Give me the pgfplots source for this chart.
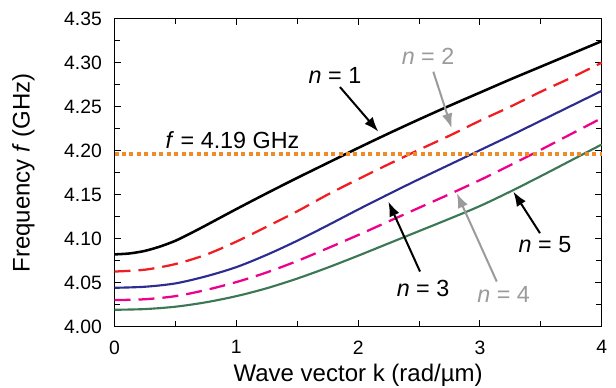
\documentclass[border=0pt]{standalone}
\usepackage{pgfplots}
\pgfplotsset{compat=1.18}
\usepackage{fontspec}
\setmainfont{Liberation Sans}
\usetikzlibrary{arrows.meta}
\definecolor{cred}{RGB}{240,30,35}
\definecolor{cblue}{RGB}{45,45,145}
\definecolor{cmag}{RGB}{236,0,140}
\definecolor{cgreen}{RGB}{60,120,85}
\definecolor{corange}{RGB}{240,140,40}
\definecolor{cgray}{RGB}{155,155,155}
\begin{document}
\begin{tikzpicture}
\begin{axis}[
  scale only axis, width=365.4pt, height=230.8pt,
  xmin=0, xmax=4, ymin=4.00, ymax=4.35,
  xtick={0,1,2,3,4}, ytick={4.00,4.05,4.10,4.15,4.20,4.25,4.30,4.35},
  minor x tick num=1, minor y tick num=1,
  tick pos=both, tick align=inside,
  major tick length=5pt, minor tick length=4pt,
  axis line style={line width=1pt}, every tick/.style={line width=0.8pt, black},
  /pgf/number format/assume math mode=true,
  yticklabel style={/pgf/number format/fixed, /pgf/number format/fixed zerofill, /pgf/number format/precision=2, xshift=-6pt},
  xticklabel style={yshift=-7pt},
  ticklabel style={font=\fontsize{14.5}{16}\selectfont},
  clip=false,
]
\addplot[black, line width=1.9pt, smooth] coordinates {(0,4.0820)(0.125,4.0831)(0.25,4.0860)(0.375,4.0910)(0.5,4.0975)(0.625,4.1060)(0.75,4.1150)(1.0,4.1335)(1.25,4.1515)(1.5,4.1690)(1.75,4.1860)(2.0,4.2030)(2.25,4.2195)(2.5,4.2355)(2.75,4.2510)(3.0,4.2660)(3.25,4.2810)(3.5,4.2955)(3.75,4.3100)(4.0,4.3245)};
\addplot[cred, line width=1.7pt, smooth, dash pattern=on 12pt off 6pt] coordinates {(0,4.0625)(0.25,4.0646)(0.5,4.0710)(0.75,4.0816)(1.0,4.0965)(1.25,4.1135)(1.5,4.1310)(1.75,4.1500)(2.0,4.1675)(2.25,4.1845)(2.5,4.2010)(2.75,4.2170)(3.0,4.2340)(3.25,4.2500)(3.5,4.2670)(3.75,4.2830)(4.0,4.3000)};
\addplot[cblue, line width=1.6pt, smooth] coordinates {(0,4.0440)(0.25,4.0452)(0.5,4.0490)(0.75,4.0570)(1.0,4.0675)(1.25,4.0815)(1.5,4.0975)(1.75,4.1150)(2.0,4.1330)(2.25,4.1505)(2.5,4.1675)(2.75,4.1840)(3.0,4.2005)(3.25,4.2170)(3.5,4.2340)(3.75,4.2510)(4.0,4.2680)};
\addplot[cmag, line width=1.7pt, smooth, dash pattern=on 12pt off 6pt] coordinates {(0,4.0300)(0.25,4.0310)(0.5,4.0345)(0.75,4.0415)(1.0,4.0505)(1.25,4.0615)(1.5,4.0745)(1.75,4.0890)(2.0,4.1040)(2.25,4.1195)(2.5,4.1350)(2.75,4.1505)(3.0,4.1665)(3.25,4.1835)(3.5,4.2010)(3.75,4.2190)(4.0,4.2370)};
\addplot[cgreen, line width=1.6pt, smooth] coordinates {(0,4.0190)(0.25,4.0198)(0.5,4.0225)(0.75,4.0275)(1.0,4.0345)(1.25,4.0435)(1.5,4.0545)(1.75,4.0670)(2.0,4.0805)(2.25,4.0945)(2.5,4.1085)(2.75,4.1225)(3.0,4.1370)(3.25,4.1535)(3.5,4.1710)(3.75,4.1890)(4.0,4.2070)};
\addplot[corange, line width=3pt, dash pattern=on 3pt off 2.6pt] coordinates {(0,4.196)(4,4.196)};
% labels
\node[font=\fontsize{18}{20}\selectfont] at (axis cs:2,3.945) {Wave vector k (rad/µm)};
\node[font=\fontsize{18}{20}\selectfont, rotate=90] at (axis cs:-0.747,4.1747) {Frequency \textit{f} (GHz)};
% annotations
\tikzset{ann/.style={font=\fontsize{17.5}{19}\selectfont}, arr/.style={line width=1.5pt, -{Latex[length=11pt,width=8pt]}}}
\node[ann] at (axis cs:0.969,4.2122) {\textit{f} = 4.19 GHz};
\node[ann] at (axis cs:1.810,4.286) {\textit{n} = 1};
\draw[arr, black] (axis cs:1.851,4.2723) -- (axis cs:2.166,4.2216);
\node[ann, text=cgray] at (axis cs:2.574,4.307) {\textit{n} = 2};
\draw[arr, cgray] (axis cs:2.617,4.2898) -- (axis cs:2.768,4.2255);
\node[ann] at (axis cs:2.533,4.0428) {\textit{n} = 3};
\draw[arr, black] (axis cs:2.508,4.0625) -- (axis cs:2.248,4.142);
\node[ann, text=cgray] at (axis cs:3.194,4.036) {\textit{n} = 4};
\draw[arr, cgray] (axis cs:3.138,4.0511) -- (axis cs:2.810,4.1516);
\node[ann] at (axis cs:3.534,4.0928) {\textit{n} = 5};
\draw[arr, black] (axis cs:3.493,4.1061) -- (axis cs:3.274,4.1534);
\coordinate (bbsw) at (axis cs:-0.940,3.9303);
\coordinate (bbne) at (axis cs:4.117,4.3713);
\end{axis}
\pgfresetboundingbox
\path[use as bounding box] (bbsw) rectangle (bbne);
\end{tikzpicture}
\end{document}
